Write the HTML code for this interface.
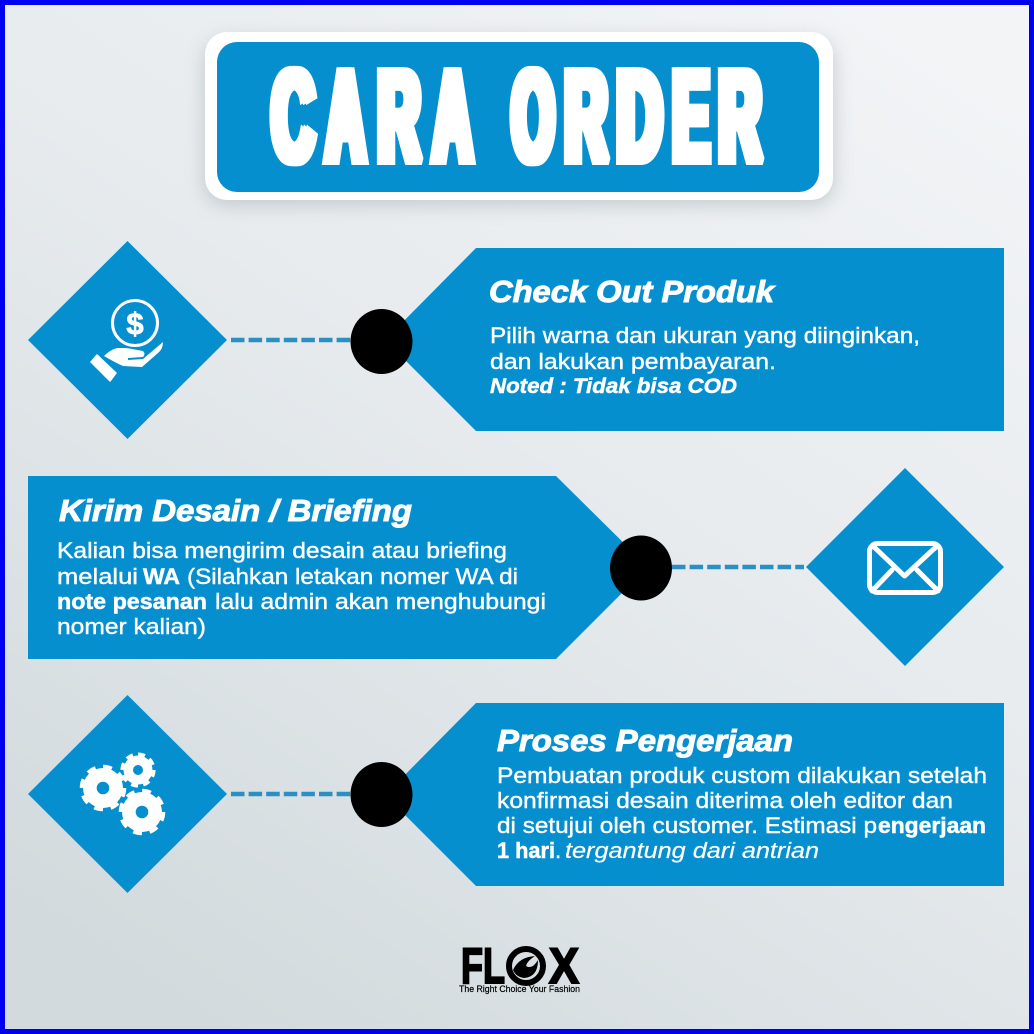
<!DOCTYPE html>
<html><head><meta charset="utf-8">
<style>
html,body{margin:0;padding:0;width:1034px;height:1034px;overflow:hidden}
svg{display:block}
text{font-family:"Liberation Sans",sans-serif;fill:#fff}
.h{font-weight:700;font-style:italic;font-size:31px;stroke:#fff;stroke-width:1}
.b{font-size:22px;stroke:#fff;stroke-width:.4}
.s{font-weight:700;font-size:22px;stroke:#fff;stroke-width:.5}
.n{font-weight:700;font-style:italic;font-size:21px;stroke:#fff;stroke-width:.5}
.i{font-style:italic;font-size:22px;stroke:#fff;stroke-width:.2}
.t{font-weight:700;font-size:129px;stroke:#fff;stroke-width:9;stroke-linejoin:miter;stroke-miterlimit:2}
.tg{filter:drop-shadow(3px 0 0 #fff) drop-shadow(-3px 0 0 #fff)}
</style></head><body>
<svg width="1034" height="1034" viewBox="0 0 1034 1034" xmlns="http://www.w3.org/2000/svg">
<defs>
<linearGradient id="bg" x1="0.85" y1="0" x2="0.2" y2="1">
<stop offset="0" stop-color="#f2f4f6"/><stop offset=".45" stop-color="#e7ebee"/><stop offset="1" stop-color="#d2dadd"/>
</linearGradient>
<filter id="sh" x="-10%" y="-20%" width="120%" height="150%"><feGaussianBlur stdDeviation="9"/></filter>
</defs>
<rect width="1034" height="1034" fill="url(#bg)"/>
<rect x="2.5" y="2.5" width="1029" height="1029" fill="none" stroke="#0000f0" stroke-width="5"/>

<!-- title -->
<rect x="203" y="38" width="632" height="168" rx="24" fill="#9aa5aa" opacity=".45" filter="url(#sh)"/>
<rect x="205" y="32" width="628" height="168" rx="22" fill="#fff"/>
<rect x="217" y="42" width="602" height="150" rx="20" fill="#068fce"/>
<g class="tg">
<text class="t" x="272" y="160.500" textLength="42" lengthAdjust="spacingAndGlyphs">C</text>
<text class="t" x="326" y="160.500" textLength="39" lengthAdjust="spacingAndGlyphs">A</text>
<text class="t" x="378" y="160.500" textLength="42" lengthAdjust="spacingAndGlyphs">R</text>
<text class="t" x="433" y="160.500" textLength="39" lengthAdjust="spacingAndGlyphs">A</text>
<text class="t" x="512" y="160.500" textLength="42" lengthAdjust="spacingAndGlyphs">O</text>
<text class="t" x="565" y="160.500" textLength="42" lengthAdjust="spacingAndGlyphs">R</text>
<text class="t" x="617" y="160.500" textLength="45" lengthAdjust="spacingAndGlyphs">D</text>
<text class="t" x="673" y="160.500" textLength="36" lengthAdjust="spacingAndGlyphs">E</text>
<text class="t" x="719" y="160.500" textLength="42" lengthAdjust="spacingAndGlyphs">R</text>
</g>

<!-- shapes -->
<g fill="#068fce">
<polygon points="476,248 1004,248 1004,431 476,431 385,340"/>
<polygon points="28,476 556,476 648,567 556,659 28,659"/>
<polygon points="476,703 1004,703 1004,886 476,886 385,795"/>
<polygon points="127.500,241 227,340 127.500,439 28,340"/>
<polygon points="905,468 1004,567 905,666 806,567"/>
<polygon points="127.500,695 227,794 127.500,893 28,794"/>
</g>
<g stroke="#2a8fc2" stroke-width="4.500" stroke-dasharray="13.500 4.100" fill="none">
<line x1="231" y1="340" x2="352" y2="340"/>
<line x1="672" y1="567" x2="804" y2="567"/>
<line x1="231" y1="794" x2="352" y2="794"/>
</g>
<ellipse cx="381.500" cy="341.500" rx="31" ry="32.500" fill="#000"/>
<ellipse cx="641" cy="568" rx="31" ry="32.500" fill="#000"/>
<ellipse cx="381.500" cy="794.500" rx="31" ry="32.500" fill="#000"/>

<!-- coin hand icon -->
<circle cx="135" cy="323" r="22.500" fill="none" stroke="#fff" stroke-width="3"/>
<text x="135" y="334" font-size="31" font-weight="700" text-anchor="middle" style="stroke:#fff;stroke-width:.8">$</text>
<path d="M104 356 Q110 350 117 348 L126 348 L143 351 Q146 354 143 357 L128 358 L128 360 L143 359 L163 342 Q163 349 158 353 L142 367 L123 366 Q114 362 104 356Z" fill="#fff"/>
<polygon points="91,362 97,355 116,373 110,381" fill="#fff" stroke="#fff" stroke-width="1.500" stroke-linejoin="round"/>

<!-- envelope icon -->
<g fill="none" stroke="#fff" stroke-width="5" stroke-linecap="round" stroke-linejoin="round">
<rect x="869.500" y="543.500" width="71" height="49" rx="8"/>
<path d="M873 546 L904.500 576 L937 546"/>
<path d="M872 591 L892 570 M938 591 L917 570"/>
</g>

<!-- gears -->
<g fill="#fff">
<circle cx="103" cy="788" r="20"/><circle cx="138" cy="770" r="14.500"/><circle cx="142" cy="812" r="20"/>
</g>
<g fill="none" stroke="#fff">
<circle cx="103" cy="788" r="21.500" stroke-width="3.500" stroke-dasharray="9 7.890"/>
<circle cx="138" cy="770" r="15.800" stroke-width="3.500" stroke-dasharray="7 5.410"/>
<circle cx="142" cy="812" r="21.500" stroke-width="3.500" stroke-dasharray="9 7.890"/>
</g>
<g fill="#068fce">
<circle cx="103" cy="788" r="6.300"/><circle cx="138" cy="770" r="5"/><circle cx="142" cy="812" r="6.300"/>
</g>

<!-- text 1 -->
<text class="h" x="489" y="302" textLength="285" lengthAdjust="spacingAndGlyphs">Check Out Produk</text>
<text class="b" x="490" y="343" textLength="430" lengthAdjust="spacingAndGlyphs">Pilih warna dan ukuran yang diinginkan,</text>
<text class="b" x="490" y="369" textLength="286" lengthAdjust="spacingAndGlyphs">dan lakukan pembayaran.</text>
<text class="n" x="490" y="393" textLength="247" lengthAdjust="spacingAndGlyphs">Noted : Tidak bisa COD</text>

<!-- text 2 -->
<text class="h" x="59" y="521" textLength="353" lengthAdjust="spacingAndGlyphs">Kirim Desain / Briefing</text>
<text class="b" x="57" y="558" textLength="450" lengthAdjust="spacingAndGlyphs">Kalian bisa mengirim desain atau briefing</text>
<text class="b" x="57" y="584" textLength="81" lengthAdjust="spacingAndGlyphs">melalui</text>
<text class="s" x="143" y="584" textLength="37" lengthAdjust="spacingAndGlyphs">WA</text>
<text class="b" x="187" y="584" textLength="331" lengthAdjust="spacingAndGlyphs">(Silahkan letakan nomer WA di</text>
<text class="s" x="57" y="609" textLength="150" lengthAdjust="spacingAndGlyphs">note pesanan</text>
<text class="b" x="215" y="609" textLength="331" lengthAdjust="spacingAndGlyphs">lalu admin akan menghubungi</text>
<text class="b" x="57" y="634" textLength="149" lengthAdjust="spacingAndGlyphs">nomer kalian)</text>

<!-- text 3 -->
<text class="h" x="497" y="751" textLength="296" lengthAdjust="spacingAndGlyphs">Proses Pengerjaan</text>
<text class="b" x="497" y="783" textLength="490" lengthAdjust="spacingAndGlyphs">Pembuatan produk custom dilakukan setelah</text>
<text class="b" x="497" y="808" textLength="456" lengthAdjust="spacingAndGlyphs">konfirmasi desain diterima oleh editor dan</text>
<text class="b" x="497" y="833" textLength="380" lengthAdjust="spacingAndGlyphs">di setujui oleh customer. Estimasi p</text>
<text class="s" x="878" y="833" textLength="108" lengthAdjust="spacingAndGlyphs">engerjaan</text>
<text class="s" x="497" y="858" textLength="58" lengthAdjust="spacingAndGlyphs">1 hari</text>
<text class="b" x="555" y="858">.</text>
<text class="i" x="565" y="858" textLength="254" lengthAdjust="spacingAndGlyphs">tergantung dari antrian</text>

<!-- logo -->
<text x="461" y="983" font-size="50" font-weight="700" textLength="44" lengthAdjust="spacingAndGlyphs" style="fill:#000;stroke:#000;stroke-width:2">FL</text>
<text x="549" y="983" font-size="50" font-weight="700" textLength="30" lengthAdjust="spacingAndGlyphs" style="fill:#000;stroke:#000;stroke-width:2">X</text>
<circle cx="526" cy="966" r="17" fill="none" stroke="#000" stroke-width="6"/>
<path d="M513 970 Q519 957 535 956 Q527 961 526 966 Q532 970 538 960 Q538 977 524 978 Q516 977 513 970Z" fill="#000"/>
<text x="459" y="992" font-size="9" textLength="121" lengthAdjust="spacingAndGlyphs" style="fill:#000;stroke:#000;stroke-width:.2">The Right Choice Your Fashion</text>
</svg>
</body></html>
